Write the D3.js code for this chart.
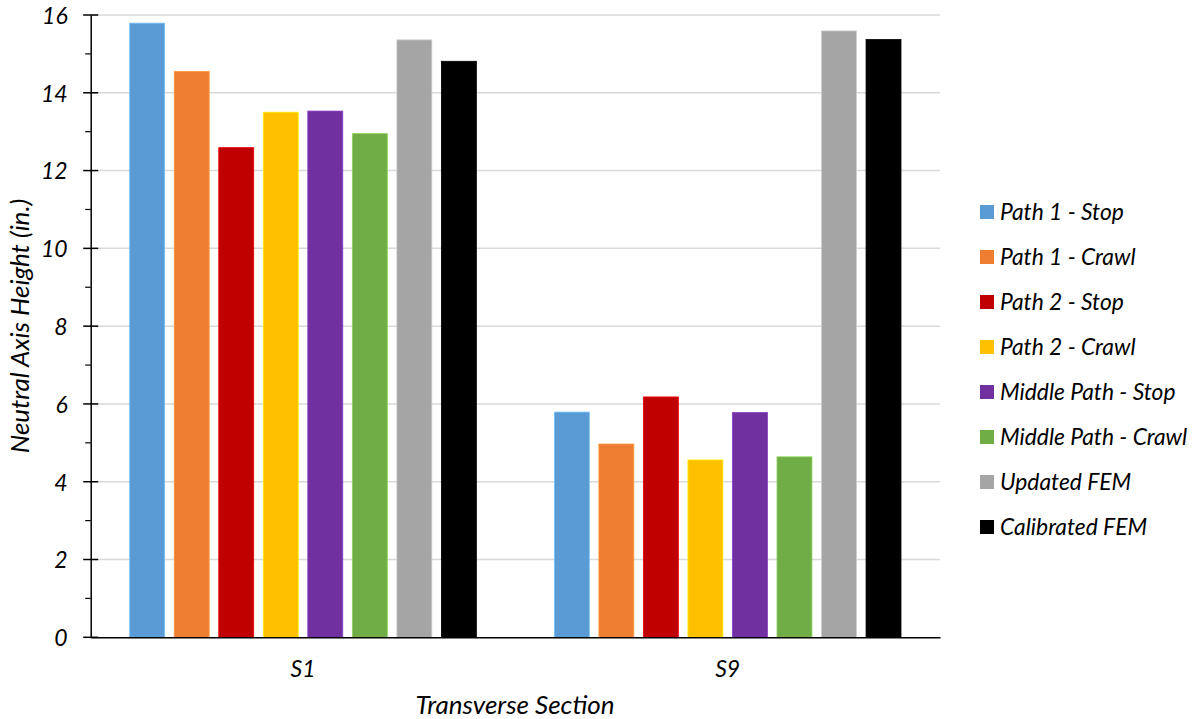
<!DOCTYPE html>
<html><head><meta charset="utf-8">
<script src="https://cdn.jsdelivr.net/npm/d3@7"></script>
<style>
body{margin:0;background:#fff;}
svg text{font-family:Lato,"Open Sans",sans-serif;font-style:italic;fill:#000;}
</style></head>
<body><svg id="c" width="1201" height="719"></svg>
<script>
const categories = ["S1","S9"];
const seriesNames = ["Path 1 - Stop","Path 1 - Crawl","Path 2 - Stop","Path 2 - Crawl","Middle Path - Stop","Middle Path - Crawl","Updated FEM","Calibrated FEM"];
const seriesColors = ["#5b9bd5","#ed7d31","#c00000","#ffc000","#7030a0","#70ad47","#a5a5a5","#000000"];
const valuesS1 = [15.79,14.55,12.59,13.50,13.53,12.95,15.36,14.81];
const valuesS9 = [5.79,4.97,6.18,4.56,5.78,4.64,15.59,15.37];
const yTicks = [0,2,4,6,8,10,12,14,16];
const yMinorTicks = [1,3,5,7,9,11,13,15];
const xTitle = "Transverse Section";
const yTitle = "Neutral Axis Height (in.)";

const values = [valuesS1, valuesS9];
const svg = d3.select("#c");
const L = 90.7, R = 940, T = 15, B = 637.3;

const x0 = d3.scaleBand().domain(categories).range([L,R]).paddingInner(0).paddingOuter(0);
const x1 = d3.scaleBand().domain(seriesNames.map((d,i)=>i)).range([39, x0.bandwidth()-39]).paddingInner(0.215).paddingOuter(0);
const y = d3.scaleLinear().domain([0,16]).range([B,T]);

// gridlines
svg.append("g").selectAll("line").data(yTicks.filter(d=>d>0)).join("line")
  .attr("x1",L).attr("x2",R).attr("y1",d=>y(d)).attr("y2",d=>y(d))
  .attr("stroke","#d9d9d9").attr("stroke-width",1.5);

// bars
const groups = svg.append("g").selectAll("g").data(categories).join("g")
  .attr("transform",d=>`translate(${x0(d)},0)`);
groups.selectAll("rect").data((d,ci)=>values[ci].map((v,si)=>({v,si}))).join("rect")
  .attr("x",d=>x1(d.si)).attr("width",x1.bandwidth())
  .attr("y",d=>y(d.v)).attr("height",d=>B-y(d.v))
  .attr("fill",d=>seriesColors[d.si])
  .attr("stroke",d=>d3.color(seriesColors[d.si]).brighter(0.6)).attr("stroke-width",0.8);

// y axis
const yAxis = d3.axisLeft(y).tickValues(yTicks).tickSize(0).tickPadding(23).tickFormat(d3.format("d"));
const ya = svg.append("g").attr("transform",`translate(${L},0)`).call(yAxis);
ya.select(".domain").attr("stroke","#000").attr("stroke-width",1.5);
ya.selectAll("text").attr("font-size",23).attr("dy","0.36em").style("font-family","Lato,sans-serif").style("font-style","italic");
// major ticks crossing
svg.append("g").selectAll("line").data(yTicks).join("line")
  .attr("x1",L-7.5).attr("x2",L+7.5).attr("y1",d=>y(d)).attr("y2",d=>y(d))
  .attr("stroke","#000").attr("stroke-width",1.5);
svg.append("g").selectAll("line").data(yMinorTicks).join("line")
  .attr("x1",L-5.5).attr("x2",L).attr("y1",d=>y(d)).attr("y2",d=>y(d))
  .attr("stroke","#000").attr("stroke-width",1.2);

// x axis
const xAxis = d3.axisBottom(x0).tickSize(0).tickPadding(26);
const xa = svg.append("g").attr("transform",`translate(0,${B})`).call(xAxis);
xa.select(".domain").attr("stroke","#000").attr("stroke-width",1.5);
xa.selectAll("text").attr("font-size",23).attr("dy","0.6em").style("font-family","Lato,sans-serif").style("font-style","italic");

// titles
svg.append("text").attr("x",515).attr("y",714).attr("text-anchor","middle").attr("font-size",26).text(xTitle);
svg.append("text").attr("transform","translate(29,326) rotate(-90)").attr("text-anchor","middle").attr("font-size",26).text(yTitle);

// legend
const lg = svg.append("g").selectAll("g").data(seriesNames).join("g")
  .attr("transform",(d,i)=>`translate(980,${212+i*45})`);
lg.append("rect").attr("x",0).attr("y",-7).attr("width",14).attr("height",14).attr("fill",(d,i)=>seriesColors[i]);
lg.append("text").attr("x",20).attr("y",8).attr("font-size",22.8).text(d=>d);
</script></body></html>
